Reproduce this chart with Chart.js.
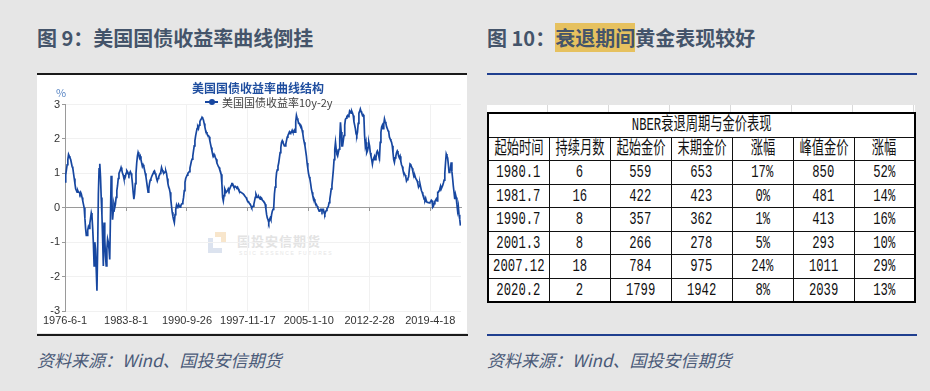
<!DOCTYPE html>
<html>
<head>
<meta charset="utf-8">
<script src="https://cdn.jsdelivr.net/npm/chart.js@4.4.0/dist/chart.umd.min.js"></script>
<style>
body { margin: 0; width: 930px; height: 391px; background: #e6e6e6; position: relative; overflow: hidden;
       font-family: "Noto Sans CJK SC", sans-serif; }
.fig-title { position: absolute; top: 24px; font-size: 20px; font-weight: bold; color: #44546a; line-height: 27px; white-space: nowrap; }
.fig-title .hl { background: #e6c15f; }
.source { position: absolute; top: 348px; font-size: 17px; font-style: italic; color: #4a5a78; line-height: 24px; white-space: nowrap; }
.rule { position: absolute; height: 2px; }
#panel { position: absolute; left: 37px; top: 75px; width: 430px; height: 258px; background: #fff; }
#chartBox { position: absolute; left: 37px; top: 75px; width: 428px; height: 258px; }
.ctitle { position: absolute; left: 37px; width: 442px; top: 80px; text-align: center; font-size: 12px; font-weight: bold; color: #1f4e9f; line-height: 16px; }
.legend { position: absolute; left: 205px; top: 95px; font-size: 11px; color: #444; line-height: 14px; white-space: nowrap; }
.legend .mk { display: inline-block; position: relative; width: 13px; height: 14px; vertical-align: top; margin-right: 4px; }
.legend .mk:before { content: ""; position: absolute; left: 0; right: 0; top: 6px; height: 1.5px; background: #1747a0; }
.legend .mk:after { content: ""; position: absolute; left: 3.5px; top: 3.5px; width: 6px; height: 6px; border-radius: 50%; background: #1747a0; }
.unit { position: absolute; left: 56px; top: 84px; font-size: 11px; color: #5a86c4; }
.wm-text { position: absolute; left: 237px; top: 231px; font-size: 13px; font-weight: bold; color: #e3e3e3; letter-spacing: 1px; }
.wm-sub { position: absolute; left: 239px; top: 250px; font-size: 5px; color: #e6e6e6; letter-spacing: 1.6px; font-family: "Liberation Sans"; }
.wm-a { position: absolute; left: 215px; top: 232px; width: 11px; height: 11px; border-top: 5px solid #f8e6cc; border-right: 5px solid #f8e6cc; box-sizing: border-box; }
.wm-b { position: absolute; left: 208px; top: 238px; width: 14px; height: 15px; border-left: 5px solid #dce3ef; border-bottom: 5px solid #dce3ef; box-sizing: border-box; }
#sheet { position: absolute; left: 487px; top: 105px; width: 428px; height: 198px; background: #fff;
         background-image: repeating-linear-gradient(to right, transparent 0, transparent 60px, #dadada 60px, #dadada 61px); }
#tbl { position: absolute; left: 487px; top: 112px; width: 428px; border-collapse: collapse; table-layout: fixed; background: #fff; border: 2px solid #000; }
#tbl td { border: 1px solid #111; height: 22.5px; padding: 0; text-align: center; white-space: nowrap;
          font-family: "Liberation Mono", "Noto Sans CJK SC", monospace; font-size: 18px; line-height: 18px; color: #111; }
#tbl td span { display: inline-block; transform: scaleX(0.68); margin: 0 -40px; }
</style>
</head>
<body>

<div class="fig-title" style="left:37px;">图 9：美国国债收益率曲线倒挂</div>
<div class="fig-title" style="left:487px;">图 10：<span class="hl">衰退期间</span>黄金表现较好</div>

<div class="rule" style="left:37px; top:73px; width:430px; background:#1a1a1a;"></div>
<div class="rule" style="left:37px; top:334px; width:431px; background:#1a1a1a;"></div>
<div class="rule" style="left:487px; top:73px; width:430px; background:#1f3f8f;"></div>
<div class="rule" style="left:487px; top:334px; width:430px; background:#1f3f8f;"></div>

<div id="panel"></div>
<div class="wm-a"></div>
<div class="wm-b"></div>
<div class="wm-text">国投安信期货</div>
<div class="wm-sub">SDIC ESSENCE FUTURES</div>
<div id="chartBox"><canvas id="spreadChart" width="428" height="258"></canvas></div>
<div class="ctitle">美国国债收益率曲线结构</div>
<div class="legend"><span class="mk"></span>美国国债收益率10y-2y</div>
<div class="unit">%</div>

<div id="sheet"></div>
<table id="tbl"></table>

<div class="source" style="left:37px;">资料来源：Wind、国投安信期货</div>
<div class="source" style="left:487px;">资料来源：Wind、国投安信期货</div>

<script>
// 10y-2y spread, monthly, starting June 1976
const startYear = 1976;
const startMonth = 6;
const spread = [
    0.75, 0.95, 1.10, 1.25, 1.40, 1.55, 1.50,                                  // 1976
    1.45, 1.40, 1.30, 1.20, 1.15, 1.00, 0.85, 0.70, 0.55, 0.50, 0.45, 0.50,    // 1977
    0.45, 0.45, 0.40, 0.45, 0.40, 0.30, 0.20, 0.10, 0.00, -0.30, -0.60, -0.80, // 1978
    -0.80, -0.65, -0.55, -0.60, -0.45, -0.30, -0.15, -0.25, -0.60, -1.05, -1.69, -1.00, // 1979
    -1.20, -1.80, -2.41, -1.20, 0.40, 1.13, 1.28, 0.90, 0.30, -0.20, -0.90, -1.69,     // 1980
    -0.43, -0.90, -1.40, -1.69, -1.20, -0.91, -1.00, -1.20, -1.50, -0.30, 0.93, 0.30,  // 1981
    -0.35, -0.10, 0.10, 0.00, 0.10, 0.30, 0.50, 0.64, 0.85, 1.00, 1.05, 1.10,  // 1982
    1.17, 1.10, 1.00, 0.95, 0.85, 0.84, 0.90, 1.00, 1.08, 1.05, 1.00, 0.95,    // 1983
    1.00, 1.05, 1.00, 0.90, 0.70, 0.45, 0.25, 0.40, 0.70, 1.00, 1.30, 1.50,    // 1984
    1.61, 1.55, 1.45, 1.50, 1.40, 1.30, 1.20, 1.25, 1.20, 1.10, 1.00, 0.90,    // 1985
    0.75, 0.60, 0.45, 0.55, 0.70, 0.80, 0.84, 0.90, 0.95, 1.00, 1.05, 1.07,    // 1986
    1.00, 0.95, 0.85, 0.78, 0.85, 0.90, 0.95, 1.00, 1.05, 1.17, 1.10, 1.05,    // 1987
    1.00, 1.02, 1.05, 1.07, 1.00, 0.85, 0.70, 0.60, 0.55, 0.45, 0.25, 0.05,    // 1988
    -0.13, -0.25, -0.35, -0.43, -0.20, -0.05, 0.07, 0.00, 0.05, 0.10, 0.05, 0.02, // 1989
    0.05, 0.10, 0.12, 0.17, 0.30, 0.50, 0.74, 0.85, 0.90, 0.95, 1.00, 1.02,    // 1990
    1.05, 1.15, 1.25, 1.35, 1.41, 1.50, 1.65, 1.80, 1.95, 2.09, 2.20, 2.30,    // 1991
    2.35, 2.30, 2.40, 2.50, 2.55, 2.58, 2.63, 2.60, 2.55, 2.45, 2.35, 2.25,    // 1992
    2.20, 2.15, 2.10, 2.10, 2.06, 1.95, 1.85, 1.75, 1.65, 1.56, 1.50, 1.55,    // 1993
    1.50, 1.45, 1.41, 1.30, 1.25, 1.20, 1.17, 1.10, 1.05, 0.97, 0.70, 0.30,    // 1994
    0.20, 0.35, 0.55, 0.50, 0.45, 0.45, 0.50, 0.55, 0.50, 0.55, 0.60, 0.65,    // 1995
    0.70, 0.70, 0.65, 0.60, 0.60, 0.62, 0.60, 0.58, 0.60, 0.55, 0.50, 0.48,    // 1996
    0.45, 0.45, 0.45, 0.42, 0.40, 0.38, 0.35, 0.32, 0.30, 0.25, 0.20, 0.18,    // 1997
    0.15, 0.12, 0.10, 0.05, 0.00, 0.02, 0.05, 0.10, 0.20, 0.30, 0.40, 0.35,    // 1998
    0.30, 0.30, 0.32, 0.28, 0.25, 0.30, 0.28, 0.22, 0.20, 0.17, 0.15, 0.10,    // 1999
    -0.04, -0.20, -0.30, -0.35, -0.43, -0.35, -0.30, -0.35, -0.20, -0.10, -0.05, 0.00, // 2000
    0.40, 0.60, 0.80, 1.02, 1.10, 1.20, 1.30, 1.45, 1.60, 1.75, 1.90, 1.95,    // 2001
    1.90, 1.85, 1.80, 1.80, 1.85, 1.95, 2.05, 2.10, 2.15, 2.20, 2.15, 2.20,    // 2002
    2.20, 2.25, 2.20, 2.20, 2.25, 2.20, 2.50, 2.68, 2.60, 2.55, 2.45, 2.45,    // 2003
    2.40, 2.40, 2.35, 2.25, 2.15, 2.00, 1.90, 1.80, 1.65, 1.51, 1.30, 1.15,    // 2004
    1.00, 0.90, 0.83, 0.70, 0.55, 0.45, 0.35, 0.30, 0.25, 0.18, 0.12, 0.10,    // 2005
    0.05, 0.00, -0.05, -0.10, -0.08, -0.05, -0.05, -0.10, -0.05, -0.05, -0.15, -0.19, // 2006
    -0.12, -0.08, -0.02, 0.00, 0.05, 0.15, 0.25, 0.39, 0.55, 0.65, 0.87, 1.10, // 2007
    1.40, 1.70, 1.90, 1.70, 1.55, 1.50, 1.60, 1.70, 2.00, 2.48, 2.20, 1.80,    // 2008
    1.80, 1.95, 2.10, 2.40, 2.57, 2.60, 2.65, 2.68, 2.65, 2.70, 2.82, 2.80,    // 2009
    2.75, 2.80, 2.75, 2.68, 2.50, 2.40, 2.30, 2.15, 2.10, 2.20, 2.45, 2.75,    // 2010
    2.80, 2.87, 2.80, 2.75, 2.68, 2.70, 2.65, 2.10, 1.80, 1.90, 1.60, 1.65,    // 2011
    1.75, 1.90, 1.80, 1.60, 1.50, 1.40, 1.27, 1.40, 1.45, 1.50, 1.40, 1.45,    // 2012
    1.60, 1.65, 1.60, 1.50, 1.45, 1.90, 2.19, 2.35, 2.40, 2.30, 2.43, 2.58,    // 2013
    2.50, 2.45, 2.35, 2.30, 2.24, 2.20, 2.05, 2.00, 1.95, 1.90, 1.80, 1.60,    // 2014
    1.40, 1.32, 1.45, 1.50, 1.60, 1.65, 1.60, 1.50, 1.45, 1.50, 1.35, 1.25,    // 2015
    1.20, 1.10, 1.03, 1.00, 0.95, 0.90, 0.78, 0.82, 0.85, 0.90, 1.10, 1.27,    // 2016
    1.25, 1.20, 1.15, 1.05, 0.97, 0.90, 0.92, 0.85, 0.82, 0.78, 0.70, 0.60,    // 2017
    0.63, 0.70, 0.60, 0.50, 0.45, 0.38, 0.35, 0.25, 0.22, 0.28, 0.20, 0.16,    // 2018
    0.16, 0.15, 0.14, 0.16, 0.18, 0.22, 0.20, 0.02, 0.05, 0.12, 0.18, 0.22,    // 2019
    0.26, 0.20, 0.45, 0.45, 0.50, 0.55, 0.63, 0.55, 0.55, 0.65, 0.72, 0.80,    // 2020
    1.00, 1.30, 1.56, 1.50, 1.45, 1.25, 1.03, 1.05, 1.15, 1.32, 1.05, 0.85,    // 2021
    0.63, 0.45, 0.25, 0.39, 0.30, 0.10, -0.09, 0.04, -0.20, -0.33, -0.52       // 2022
];
const tickDates = ['1976-6-1', '1983-8-1', '1990-9-26', '1997-11-17', '2005-1-10', '2012-2-28', '2019-4-18'];
const yTicks = [-3, -2, -1, 0, 1, 2, 3];

// gold table
const tableTitle = 'NBER衰退周期与金价表现';
const colHeads = ['起始时间', '持续月数', '起始金价', '末期金价', '涨幅', '峰值金价', '涨幅'];
const startDates = ['1980.1', '1981.7', '1990.7', '2001.3', '2007.12', '2020.2'];
const durations = [6, 16, 8, 8, 18, 2];
const startPrice = [559, 422, 357, 266, 784, 1799];
const endPrice = [653, 423, 362, 278, 975, 1942];
const endGain = ['17%', '0%', '1%', '5%', '24%', '8%'];
const peakPrice = [850, 481, 413, 293, 1011, 2039];
const peakGain = ['52%', '14%', '16%', '10%', '29%', '13%'];

function toYear(s) {
    const [y, m, d] = s.split('-').map(Number);
    return y + (Date.UTC(y, m - 1, d) - Date.UTC(y, 0, 1)) / (365.25 * 864e5);
}

const points = spread.map((v, i) => ({ x: startYear + (startMonth - 1 + i) / 12, y: v }));
const xMin = toYear(tickDates[0]);
const xMax = 2022.9;
const setTicks = scale => { scale.ticks = tickDates.map(d => ({ value: toYear(d) })); };

const ctx = document.getElementById('spreadChart').getContext('2d');
const spreadChart = new Chart(ctx, {
    type: 'line',
    data: {
        datasets: [{
            label: '美国国债收益率10y-2y',
            data: points,
            borderColor: '#1747a0',
            borderWidth: 1.7,
            pointRadius: 0,
            tension: 0,
            xAxisID: 'x',
            yAxisID: 'y'
        }]
    },
    options: {
        responsive: false,
        animation: false,
        devicePixelRatio: 1,
        layout: { padding: { top: 29.5, right: 4, bottom: 4, left: 0 } },
        plugins: { legend: { display: false }, title: { display: false }, tooltip: { enabled: false } },
        scales: {
            x: {
                type: 'linear',
                min: xMin,
                max: xMax,
                afterBuildTicks: setTicks,
                afterFit: s => { s.height = 18; },
                border: { display: false },
                grid: { color: '#f1f1f1', drawTicks: false },
                ticks: {
                    autoSkip: false,
                    maxRotation: 0,
                    padding: 3,
                    color: '#333',
                    font: { family: 'Liberation Sans', size: 11 },
                    callback: (v, i) => tickDates[i]
                }
            },
            x0: {
                type: 'linear',
                position: { y: 0 },
                min: xMin,
                max: xMax,
                afterBuildTicks: setTicks,
                border: { color: '#9a9a9a', width: 1 },
                grid: { drawOnChartArea: false, drawTicks: true, tickLength: 3, tickColor: '#9a9a9a' },
                ticks: { display: false }
            },
            y: {
                min: -3,
                max: 3,
                afterBuildTicks: scale => { scale.ticks = yTicks.map(v => ({ value: v })); },
                afterFit: s => { s.width = 28; },
                border: { color: '#9a9a9a', width: 1 },
                grid: {
                    color: c => c.tick && c.tick.value === 0 ? 'rgba(0,0,0,0)' : '#f1f1f1',
                    tickColor: '#9a9a9a',
                    tickLength: 3
                },
                ticks: {
                    padding: 2,
                    color: '#333',
                    font: { family: 'Liberation Sans', size: 11 },
                    callback: v => v
                }
            }
        }
    }
});

// table
const tbl = document.getElementById('tbl');
const cell = t => '<td><span>' + t + '</span></td>';
let html = '<colgroup>' + colHeads.map(() => '<col style="width:61px">').join('') + '</colgroup>';
html += '<tr><td colspan="7"><span>' + tableTitle + '</span></td></tr>';
html += '<tr>' + colHeads.map(cell).join('') + '</tr>';
startDates.forEach((d, i) => {
    html += '<tr>' + [d, durations[i], startPrice[i], endPrice[i], endGain[i], peakPrice[i], peakGain[i]].map(cell).join('') + '</tr>';
});
tbl.innerHTML = html;
</script>
</body>
</html>
